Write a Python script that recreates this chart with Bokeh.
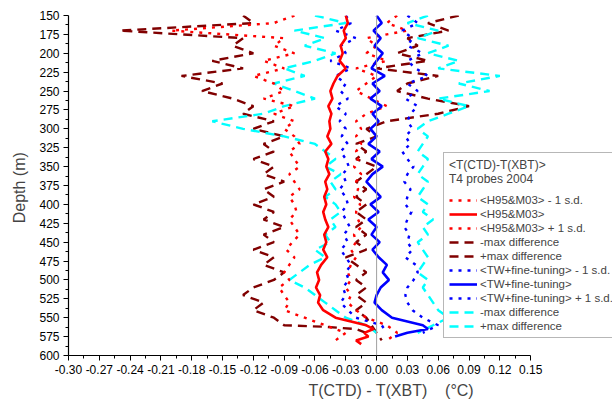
from bokeh.plotting import figure
from bokeh.models import Range1d, FixedTicker, Span, Legend, LegendItem, Title
from bokeh.embed import file_html
from bokeh.resources import INLINE

# ---------------- data ----------------
depth_main = [150, 160, 170, 180, 190, 200, 210, 220, 230, 240, 250, 260, 270, 280,
              290, 300, 310, 320, 330, 340, 350, 360, 370, 380, 390, 400, 410, 420,
              430, 440, 450, 460, 470, 480, 490, 500, 510, 520, 530, 540, 550]

h95_mean = [-0.030, -0.028, -0.032, -0.030, -0.035, -0.033, -0.036, -0.030, -0.038, -0.042,
            -0.045, -0.043, -0.047, -0.044, -0.046, -0.045, -0.048, -0.044, -0.050, -0.047,
            -0.049, -0.046, -0.050, -0.048, -0.051, -0.049, -0.052, -0.050, -0.047, -0.051,
            -0.049, -0.052, -0.048, -0.054, -0.058, -0.056, -0.059, -0.055, -0.057, -0.052,
            -0.040]
h95_mean_tail_d = [555, 560, 565, 570, 575, 580, 585]
h95_mean_tail = [-0.025, -0.010, -0.003, -0.012, -0.008, -0.020, -0.015]

h95_minus = [-0.08, -0.10, -0.20, -0.09, -0.10, -0.08, -0.11, -0.09, -0.12, -0.10,
             -0.09, -0.11, -0.08, -0.10, -0.08, -0.09, -0.08, -0.075, -0.085, -0.08,
             -0.075, -0.085, -0.08, -0.075, -0.085, -0.08, -0.078, -0.085, -0.08, -0.075,
             -0.082, -0.088, -0.08, -0.085, -0.09, -0.085, -0.095, -0.09, -0.085, -0.09,
             -0.07]
h95_minus_tail_d = [560, 570, 580]
h95_minus_tail = [-0.05, -0.03, -0.04]

h95_plus = [0.02, 0.01, 0.03, -0.01, 0.00, -0.01, 0.01, -0.02, 0.00, -0.01,
            -0.02, -0.005, 0.01, -0.01, -0.02, -0.015, -0.02, -0.015, -0.02, -0.018,
            -0.022, -0.015, -0.02, -0.018, -0.022, -0.016, -0.02, -0.018, -0.015, -0.022,
            -0.02, -0.025, -0.02, -0.025, -0.028, -0.025, -0.03, -0.025, -0.028, -0.02,
            -0.01]
h95_plus_tail_d = [560, 570, 580]
h95_plus_tail = [0.01, 0.02, 0.01]

h95_maxneg = [-0.13, -0.12, -0.25, -0.13, -0.14, -0.12, -0.16, -0.13, -0.19, -0.15,
              -0.17, -0.14, -0.12, -0.13, -0.10, -0.12, -0.09, -0.11, -0.10, -0.12,
              -0.10, -0.11, -0.09, -0.11, -0.10, -0.12, -0.10, -0.11, -0.09, -0.11,
              -0.10, -0.12, -0.10, -0.11, -0.09, -0.10, -0.12, -0.13, -0.11, -0.12,
              -0.10]
h95_maxneg_tail_d = [560, 562, 565, 570]
h95_maxneg_tail = [-0.09, -0.05, -0.02, -0.01]

h95_maxpos = [0.08, 0.05, 0.07, 0.03, 0.04, 0.02, 0.05, 0.00, 0.06, 0.03,
              0.02, 0.05, 0.09, 0.06, 0.01, -0.01, 0.00, -0.02, -0.01, -0.02,
              0.00, -0.01, -0.02, -0.01, -0.02, -0.01, -0.02, -0.01, -0.02, -0.01,
              -0.02, -0.01, -0.03, -0.02, -0.01, -0.02, -0.01, -0.02, -0.01, -0.02,
              -0.01]
h95_maxpos_tail_d = [560, 570, 580]
h95_maxpos_tail = [-0.005, 0.0, 0.005]

tw_mean = [0.000, 0.005, -0.003, 0.004, -0.002, 0.006, 0.000, -0.005, 0.008, -0.004,
           0.003, -0.006, 0.005, -0.004, 0.002, -0.006, 0.000, -0.008, 0.003, -0.005,
           0.006, -0.004, -0.010, -0.003, 0.004, -0.006, 0.002, -0.008, 0.000, -0.005,
           0.003, -0.004, 0.002, 0.010, 0.006, 0.012, 0.004, 0.000, -0.002, 0.005,
           0.015]
tw_mean_tail_d = [555, 560, 565, 570, 575]
tw_mean_tail = [0.030, 0.045, 0.050, 0.030, 0.018]

tw_minus = [-0.03, -0.025, -0.04, -0.02, -0.035, -0.03, -0.045, -0.025, -0.04, -0.03,
            -0.035, -0.028, -0.04, -0.03, -0.036, -0.03, -0.034, -0.028, -0.035, -0.03,
            -0.027, -0.033, -0.03, -0.036, -0.03, -0.028, -0.034, -0.03, -0.026, -0.032,
            -0.028, -0.035, -0.03, -0.025, -0.03, -0.027, -0.033, -0.03, -0.035, -0.028,
            -0.02]
tw_minus_tail_d = [560, 570]
tw_minus_tail = [0.005, 0.01]

tw_plus = [0.03, 0.04, 0.025, 0.035, 0.03, 0.045, 0.03, 0.038, 0.05, 0.03,
           0.04, 0.028, 0.04, 0.033, 0.03, 0.035, 0.028, 0.033, 0.025, 0.03,
           0.036, 0.03, 0.027, 0.033, 0.03, 0.028, 0.034, 0.03, 0.027, 0.032,
           0.03, 0.035, 0.028, 0.038, 0.04, 0.036, 0.03, 0.028, 0.03, 0.035,
           0.045]
tw_plus_tail_d = [560, 570]
tw_plus_tail = [0.06, 0.045]

tw_maxneg = [-0.06, -0.03, -0.08, -0.05, -0.07, -0.04, -0.06, -0.09, -0.07, -0.10,
             -0.08, -0.06, -0.09, -0.11, -0.16, -0.13, -0.09, -0.06, -0.05, -0.04,
             -0.05, -0.035, -0.045, -0.04, -0.05, -0.04, -0.035, -0.045, -0.04, -0.05,
             -0.045, -0.06, -0.05, -0.065, -0.075, -0.085, -0.07, -0.06, -0.05, -0.04,
             -0.03]
tw_maxneg_tail_d = [560, 570]
tw_maxneg_tail = [-0.01, 0.0]

tw_maxpos = [0.05, 0.03, 0.06, 0.04, 0.07, 0.05, 0.08, 0.06, 0.12, 0.08,
             0.11, 0.06, 0.09, 0.07, 0.05, 0.04, 0.05, 0.045, 0.04, 0.05,
             0.045, 0.04, 0.05, 0.045, 0.04, 0.05, 0.045, 0.055, 0.045, 0.05,
             0.04, 0.045, 0.05, 0.045, 0.04, 0.05, 0.045, 0.05, 0.055, 0.06,
             0.07]
tw_maxpos_tail_d = [560, 570]
tw_maxpos_tail = [0.055, 0.04]

x_ticks = [-0.30, -0.27, -0.24, -0.21, -0.18, -0.15, -0.12, -0.09, -0.06, -0.03,
           0.00, 0.03, 0.06, 0.09, 0.12, 0.15]
x_tick_labels = ["-0.30", "-0.27", "-0.24", "-0.21", "-0.18", "-0.15", "-0.12", "-0.09",
                 "-0.06", "-0.03", "0.00", "0.03", "0.06", "0.09", "0.12", "0.15"]
y_ticks = [150, 175, 200, 225, 250, 275, 300, 325, 350, 375, 400, 425, 450, 475,
           500, 525, 550, 575, 600]

labels = ["<H95&M03> - 1 s.d.", "<H95&M03>", "<H95&M03> + 1 s.d.",
          "-max difference", "+max difference",
          "<TW+fine-tuning> - 1 s.d.", "<TW+fine-tuning>", "<TW+fine-tuning> + 1 s.d.",
          "-max difference", "+max difference"]
legend_title = "<T(CTD)-T(XBT)>\nT4 probes 2004"
x_title = "T(CTD) - T(XBT)\u00a0\u00a0\u00a0\u00a0(\u00b0C)"
y_title = "Depth  (m)"

FONT = "Liberation Sans"
RED, MAROON, BLUE, CYAN = "#ff0000", "#800000", "#0000ff", "#00ffff"

# ---------------- figure ----------------
p = figure(width=614, height=408, output_backend="svg", toolbar_location=None,
           x_range=Range1d(-0.30, 0.2297), y_range=Range1d(600, 150),
           min_border_left=68, min_border_right=2, min_border_top=15, min_border_bottom=53)
p.outline_line_color = None
p.xgrid.visible = False
p.ygrid.visible = False
p.background_fill_color = "white"

p.add_layout(Span(location=0, dimension="height", line_color="#a0a0a0", line_width=1))

def series(main_vals, tail_d, tail_v):
    return main_vals + tail_v, depth_main + tail_d

W = 2.4
dash_long = "9 6"
dot = "3 6"

x, y = series(h95_maxneg, h95_maxneg_tail_d, h95_maxneg_tail)
r_h_mn = p.line(x, y, line_color=MAROON, line_width=W, line_dash=dash_long)
x, y = series(h95_maxpos, h95_maxpos_tail_d, h95_maxpos_tail)
r_h_mp = p.line(x, y, line_color=MAROON, line_width=W, line_dash=dash_long)
x, y = series(tw_maxneg, tw_maxneg_tail_d, tw_maxneg_tail)
r_t_mn = p.line(x, y, line_color=CYAN, line_width=W, line_dash=dash_long)
x, y = series(tw_maxpos, tw_maxpos_tail_d, tw_maxpos_tail)
r_t_mp = p.line(x, y, line_color=CYAN, line_width=W, line_dash=dash_long)
x, y = series(h95_minus, h95_minus_tail_d, h95_minus_tail)
r_h_m = p.line(x, y, line_color=RED, line_width=W, line_dash=dot)
x, y = series(h95_plus, h95_plus_tail_d, h95_plus_tail)
r_h_p = p.line(x, y, line_color=RED, line_width=W, line_dash=dot)
x, y = series(tw_minus, tw_minus_tail_d, tw_minus_tail)
r_t_m = p.line(x, y, line_color=BLUE, line_width=W, line_dash=dot)
x, y = series(tw_plus, tw_plus_tail_d, tw_plus_tail)
r_t_p = p.line(x, y, line_color=BLUE, line_width=W, line_dash=dot)
x, y = series(h95_mean, h95_mean_tail_d, h95_mean_tail)
r_h = p.line(x, y, line_color=RED, line_width=2.6)
x, y = series(tw_mean, tw_mean_tail_d, tw_mean_tail)
r_t = p.line(x, y, line_color=BLUE, line_width=2.6)

renderers = [r_h_m, r_h, r_h_p, r_h_mn, r_h_mp, r_t_m, r_t, r_t_p, r_t_mn, r_t_mp]
items = [LegendItem(label=l, renderers=[r]) for l, r in zip(labels, renderers)]
legend = Legend(items=items, location=(375, 17),
                title=legend_title,
                title_text_font=FONT, title_text_font_size="12px",
                title_text_font_style="normal", title_text_line_height=1.3,
                title_standoff=8,
                label_text_font=FONT, label_text_font_size="11.5px",
                glyph_width=28, glyph_height=12, label_height=12, label_standoff=3,
                spacing=2, padding=5, margin=0,
                border_line_color="#707070", border_line_width=1,
                background_fill_color="white", background_fill_alpha=1.0)
p.add_layout(legend, "center")

# axes
xa = p.xaxis[0]
xa.ticker = FixedTicker(ticks=x_ticks,
                        minor_ticks=[t + 0.015 for t in x_ticks[:-1]])
xa.major_label_overrides = {t: s for t, s in zip(x_ticks, x_tick_labels)}
xa.bounds = (x_ticks[0], x_ticks[-1])
ya = p.yaxis[0]
ya.ticker = FixedTicker(ticks=y_ticks, minor_ticks=[t + 12.5 for t in y_ticks[:-1]])
ya.bounds = (y_ticks[0], y_ticks[-1])
ya.axis_label = y_title
ya.axis_label_text_font = FONT
ya.axis_label_text_font_size = "16px"
ya.axis_label_text_font_style = "normal"
ya.axis_label_standoff = 8
for ax in (xa, ya):
    ax.axis_line_color = "black"
    ax.axis_line_width = 1.2
    ax.major_tick_line_color = "black"
    ax.minor_tick_line_color = "black"
    ax.major_tick_in = 0
    ax.major_tick_out = 5
    ax.minor_tick_in = 0
    ax.minor_tick_out = 3
    ax.major_label_text_font = FONT
    ax.major_label_text_font_size = "12px"
    ax.major_label_text_color = "black"
    ax.major_label_standoff = 4

p.add_layout(Title(text=x_title, align="left", offset=240, standoff=7,
                   text_font=FONT, text_font_size="16px", text_font_style="normal"),
             "below")

open("out.html", "w").write(file_html(p, INLINE))
